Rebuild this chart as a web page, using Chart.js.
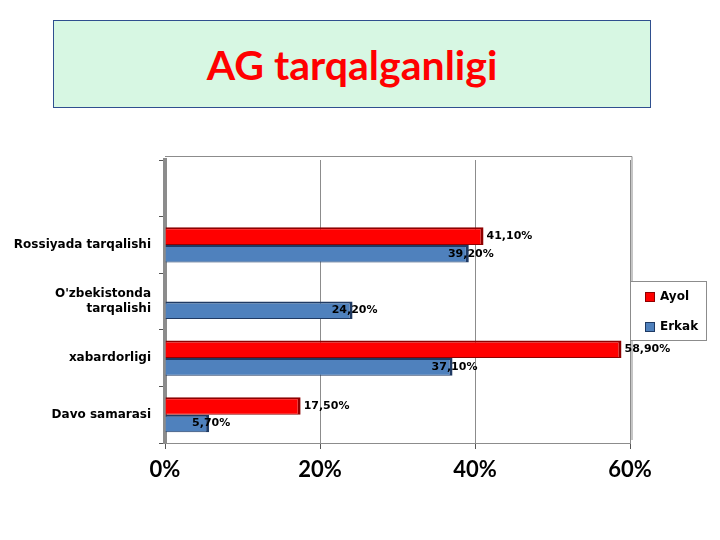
<!DOCTYPE html>
<html>
<head>
<meta charset="utf-8">
<script src="https://cdn.jsdelivr.net/npm/chart.js@4/dist/chart.umd.min.js"></script>
<style>
  body { margin: 0; background: #fff; }
  #wrap { position: relative; width: 720px; height: 540px; }
  #title {
    position: absolute; left: 53px; top: 20px; width: 596px; height: 86px;
    background: #d7f7e3; border: 1px solid #2f4f8f;
    font: bold 41px Lato, sans-serif; color: #ff0000;
    display: flex; align-items: center; justify-content: center;
  }
  canvas { position: absolute; left: 0; top: 0; }
</style>
</head>
<body>
<div id="wrap">
  <div id="title">AG tarqalganligi</div>
  <canvas id="chart" width="720" height="540"></canvas>
</div>
<script>
let categories = ["", "Rossiyada tarqalishi", ["O'zbekistonda", "tarqalishi"], "xabardorligi", "Davo samarasi"];
let seriesNames = ["Ayol", "Erkak"];
let ayolValues = [null, 41.1, null, 58.9, 17.5];
let erkakValues = [null, 39.2, 24.2, 37.1, 5.7];
let xTicks = [0, 20, 40, 60];

let fillColors = ["#ff0000", "#4f81bd"];
let edgeColors = ["#8f0000", "#1f3a63"];

function pct(v) {
    return v.toFixed(2).replace(".", ",") + "%";
}

// value labels at bar ends
let valueLabels = {
    id: "valueLabels",
    afterDatasetsDraw(chart) {
        let ctx = chart.ctx;
        ctx.save();
        ctx.font = "bold 11px 'DejaVu Sans', sans-serif";
        ctx.fillStyle = "#000";
        ctx.textBaseline = "middle";
        chart.data.datasets.forEach((ds, i) => {
            chart.getDatasetMeta(i).data.forEach((el, j) => {
                let v = ds.data[j];
                if (v == null) return;
                if (i === 0) {
                    ctx.textAlign = "left";
                    ctx.fillText(pct(v), el.x + 3, el.y);
                } else {
                    ctx.textAlign = "center";
                    ctx.fillText(pct(v), el.x + 2, el.y);
                }
            });
        });
        ctx.restore();
    }
};

// plot frame + boxed legend
let frameAndLegend = {
    id: "frameAndLegend",
    beforeDatasetsDraw(chart) {
        let a = chart.chartArea;
        let ctx = chart.ctx;
        ctx.save();
        ctx.strokeStyle = "#8c8c8c";
        ctx.lineWidth = 1;
        ctx.beginPath();
        ctx.moveTo(a.left, a.top - 3.5);
        ctx.lineTo(a.right + 2, a.top - 3.5);
        ctx.lineTo(a.right + 2, a.bottom - 3);
        ctx.stroke();
        ctx.restore();
    },
    afterDraw(chart) {
        let ctx = chart.ctx;
        ctx.save();
        ctx.fillStyle = "#fff";
        ctx.strokeStyle = "#8c8c8c";
        ctx.fillRect(630.5, 281.5, 76, 59);
        ctx.strokeRect(630.5, 281.5, 76, 59);
        ctx.font = "bold 12px 'DejaVu Sans', sans-serif";
        ctx.textBaseline = "middle";
        ctx.textAlign = "left";
        chart.data.datasets.forEach((ds, i) => {
            let y = 292 + i * 30;
            ctx.fillStyle = fillColors[i];
            ctx.fillRect(645, y, 10, 10);
            ctx.strokeStyle = edgeColors[i];
            ctx.strokeRect(645.5, y + 0.5, 9, 9);
            ctx.fillStyle = "#000";
            ctx.fillText(ds.label, 660, y + 5);
        });
        ctx.restore();
    }
};

let chart = new Chart(document.getElementById("chart"), {
    type: "bar",
    data: {
        labels: categories,
        datasets: [{
            label: seriesNames[0],
            data: ayolValues,
            backgroundColor: fillColors[0],
            borderColor: edgeColors[0],
            borderWidth: { top: 2, right: 3, bottom: 1, left: 0 },
            borderSkipped: false
        }, {
            label: seriesNames[1],
            data: erkakValues,
            backgroundColor: fillColors[1],
            borderColor: edgeColors[1],
            borderWidth: { top: 2, right: 3, bottom: 1, left: 0 },
            borderSkipped: false
        }]
    },
    options: {
        indexAxis: "y",
        responsive: false,
        animation: false,
        categoryPercentage: 0.62,
        barPercentage: 1,
        layout: { padding: { top: 160, right: 90, left: 0, bottom: 0 } },
        plugins: {
            legend: { display: false },
            tooltip: { enabled: false }
        },
        scales: {
            x: {
                min: 0,
                max: 60,
                afterBuildTicks: s => { s.ticks = xTicks.map(v => ({ value: v })); },
                afterFit: s => { s.height = 97; },
                ticks: {
                    callback: v => v + "%",
                    color: "#000",
                    padding: 8,
                    font: { family: "Lato", size: 22, weight: "bold" }
                },
                grid: { color: "#8c8c8c", tickLength: 6, tickColor: "#555" },
                border: { color: "#8c8c8c" }
            },
            y: {
                afterFit: s => { s.width = 165; },
                ticks: {
                    color: "#000",
                    padding: 8,
                    font: { family: "DejaVu Sans", size: 12, weight: "bold" }
                },
                grid: { drawOnChartArea: false, tickLength: 6, tickColor: "#555", offset: true },
                border: { color: "#8c8c8c", width: 4 }
            }
        }
    },
    plugins: [frameAndLegend, valueLabels]
});
</script>
</body>
</html>
